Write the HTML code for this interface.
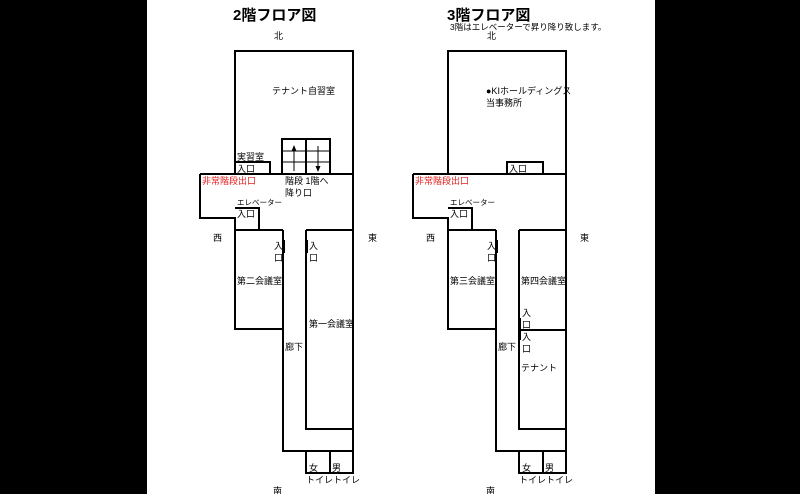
<!DOCTYPE html>
<html><head><meta charset="utf-8"><style>
html,body{margin:0;padding:0;background:#000;}
svg{display:block}
text{font-family:"Liberation Sans","Noto Sans CJK JP",sans-serif;fill:#000;}
</style></head><body>
<svg width="800" height="494" viewBox="0 0 800 494" xmlns="http://www.w3.org/2000/svg">
<rect x="147" y="0" width="508" height="494" fill="#fff"/>
<g fill="none" stroke="#000" stroke-width="2">
<!-- 2F -->
<polyline points="235,174 235,51 353,51 353,451 283,451 283,329 235,329 235,230"/>
<line x1="200" y1="174" x2="353" y2="174"/>
<polyline points="200,174 200,218 235,218 235,230"/>
<polyline points="235,208 259,208 259,230"/>
<line x1="235" y1="230" x2="283" y2="230"/>
<line x1="283" y1="230" x2="283" y2="329"/>
<polyline points="306,230 353,230"/>
<polyline points="306,230 306,429 353,429"/>
<polyline points="235,174 235,162 270,162 270,174"/>
<rect x="282" y="139" width="48" height="35"/>
<line x1="306" y1="139" x2="306" y2="174"/>
<line x1="282" y1="151" x2="330" y2="151" stroke-width="1"/>
<line x1="282" y1="162" x2="330" y2="162" stroke-width="1"/>
<rect x="306" y="451" width="47" height="22"/>
<line x1="330" y1="451" x2="330" y2="473"/>
<!-- 3F -->
<polyline points="448,174 448,51 566,51 566,451 496,451 496,329 448,329 448,230"/>
<line x1="413" y1="174" x2="566" y2="174"/>
<polyline points="413,174 413,218 448,218 448,230"/>
<polyline points="448,208 472,208 472,230"/>
<line x1="448" y1="230" x2="496" y2="230"/>
<line x1="496" y1="230" x2="496" y2="329"/>
<polyline points="519,230 566,230"/>
<polyline points="519,230 519,429 566,429"/>
<line x1="519" y1="330" x2="566" y2="330"/>
<polyline points="507,174 507,162 543,162 543,174"/>
<rect x="519" y="451" width="47" height="22"/>
<line x1="543" y1="451" x2="543" y2="473"/>
</g>
<g stroke="#000" stroke-width="1">
<line x1="294" y1="171" x2="294" y2="150"/>
<line x1="318" y1="146" x2="318" y2="168"/>
</g>
<polygon points="294,145 291.5,151 296.5,151" fill="#000"/>
<polygon points="318,172 315.5,166 320.5,166" fill="#000"/>
<g fill="#000">
<rect x="282" y="240" width="3" height="13"/><rect x="305" y="240" width="3" height="13"/>
<rect x="495" y="240" width="3" height="13"/><rect x="518" y="318" width="3" height="22"/>
</g>
<text x="233" y="20" font-size="15" font-weight="bold">2階フロア図</text>
<text x="447" y="20" font-size="15" font-weight="bold">3階フロア図</text>
<text x="450" y="30" font-size="8.5">3階はエレベーターで昇り降り致します。</text>
<g font-size="9">
<text x="274" y="39">北</text><text x="487" y="39">北</text>
<text x="213" y="241">西</text><text x="368" y="241">東</text>
<text x="426" y="241">西</text><text x="580" y="241">東</text>
<text x="273" y="494">南</text><text x="486" y="494">南</text>
<text x="272" y="94">テナント自習室</text>
<text x="237" y="160">実習室</text>
<text x="237" y="172">入口</text>
<text x="202" y="184" fill="#e00" style="fill:#e02020">非常階段出口</text>
<text x="285" y="184">階段 1階へ</text>
<text x="285" y="196">降り口</text>
<text x="237" y="205" font-size="7.5">エレベーター</text>
<text x="237" y="217">入口</text>
<text x="274" y="249">入</text><text x="274" y="261">口</text>
<text x="309" y="249">入</text><text x="309" y="261">口</text>
<text x="237" y="284">第二会議室</text>
<text x="309" y="327">第一会議室</text>
<text x="285" y="350">廊下</text>
<text x="309" y="471">女</text><text x="332" y="471">男</text>
<text x="306" y="483">トイレトイレ</text>
<text x="486" y="94">●KIホールディングス</text>
<text x="486" y="106">当事務所</text>
<text x="509" y="172">入口</text>
<text x="415" y="184" style="fill:#e02020">非常階段出口</text>
<text x="450" y="205" font-size="7.5">エレベーター</text>
<text x="450" y="217">入口</text>
<text x="487" y="249">入</text><text x="487" y="261">口</text>
<text x="450" y="284">第三会議室</text>
<text x="521" y="284">第四会議室</text>
<text x="522" y="316">入</text><text x="522" y="328">口</text>
<text x="522" y="340">入</text><text x="522" y="352">口</text>
<text x="498" y="350">廊下</text>
<text x="521" y="371">テナント</text>
<text x="522" y="471">女</text><text x="545" y="471">男</text>
<text x="519" y="483">トイレトイレ</text>
</g>
</svg>
</body></html>
